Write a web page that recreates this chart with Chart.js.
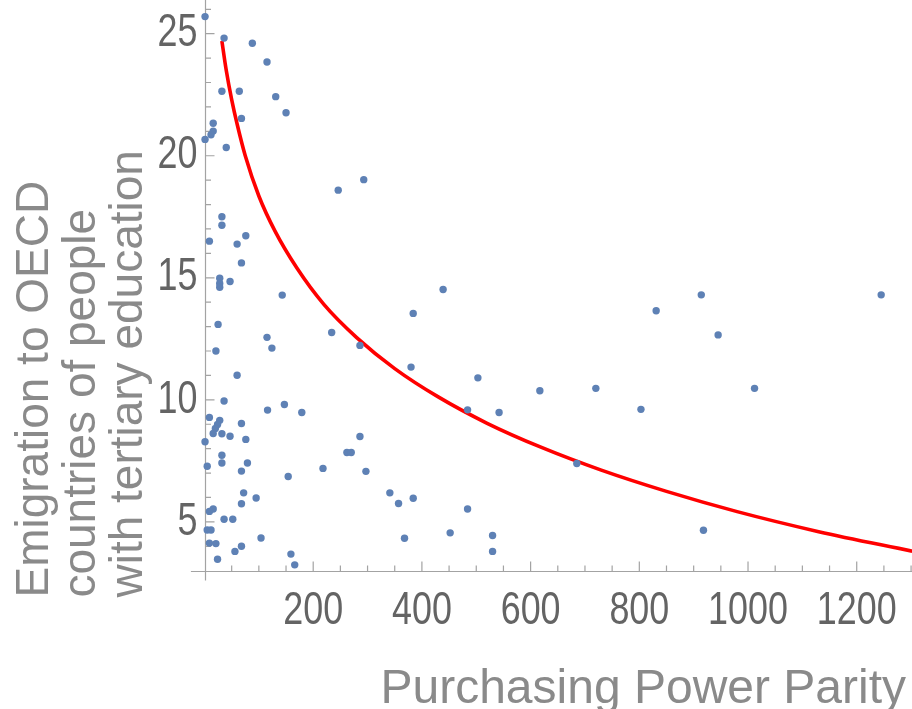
<!DOCTYPE html>
<html><head><meta charset="utf-8">
<script src="https://cdn.jsdelivr.net/npm/chart.js@4.4.1/dist/chart.umd.min.js"></script>
<style>html,body{margin:0;padding:0;background:#fff}canvas{display:block}</style>
</head><body>
<canvas id="c" width="912" height="709"></canvas>
<script>
// Scatter data: Purchasing Power Parity (x) vs emigration of tertiary educated (y)
const pppValues = [1,36,88,115,32,64,131,150,68,16,16,12,1,40,246,293,32,32,9,60,76,68,28,28,28,47,143,25,115,124,234,21,60,36,116,147,179,9,28,24,20,16,32,68,47,76,1,32,32,79,5,68,154,218,262,270,72,95,68,16,9,36,52,5,12,104,9,21,68,56,159,166,24,36,28,439,384,286,380,503,617,720,484,542,286,297,685,341,357,384,484,368,452,530,530,831,914,945,803,1012,1245,918,1008];
const emigrationValues = [25.70,24.82,24.61,23.84,22.64,22.64,22.42,21.76,21.53,21.33,21.01,20.86,20.67,20.34,18.59,19.02,17.50,17.15,16.50,16.38,16.72,15.61,14.98,14.77,14.61,14.85,14.29,13.09,12.56,12.12,12.76,12.00,11.01,9.95,9.58,9.81,9.48,9.28,9.16,8.99,8.83,8.62,8.61,9.03,8.51,8.38,8.28,7.73,7.41,7.41,7.28,7.08,6.86,7.19,7.84,7.84,6.19,5.98,5.74,5.53,5.43,5.11,5.11,4.67,4.67,4.34,4.13,4.11,4.00,3.79,3.68,3.24,3.47,2.82,2.60,14.52,13.54,12.23,11.34,10.90,10.37,10.47,9.59,9.48,8.50,7.07,7.39,6.19,5.75,5.97,5.53,4.33,4.55,4.44,3.79,13.65,14.30,12.66,9.61,10.47,14.30,4.66,2.68];

// Fitted curve, values
const fitX = [32,40,50,60,75,100,130,170,220,280,350,430,520,620,730,850,980,1130,1302];
const fitY = [24.7,23.5,22.3,21.3,20.0,18.35,16.9,15.4,13.9,12.55,11.28,10.12,9.04,8.05,7.12,6.25,5.42,4.6,3.8];

// Axis ticks
const xTickValues = [200,400,600,800,1000,1200];
const xTickLabels = ['200','400','600','800','1000','1200'];
const yTickValues = [5,10,15,20,25];
const yTickLabels = ['5','10','15','20','25'];
const xMinorTicks = [50,100,150,250,300,350,450,500,550,650,700,750,850,900,950,1050,1100,1150,1250,1300];
const yMinorTicks = [4,6,7,8,9,11,12,13,14,16,17,18,19,21,22,23,24,26];

const xAxisTitle = 'Purchasing Power Parity';
const yAxisTitle = ['Emigration to OECD', 'countries of people', 'with tertiary education'];

const scatterPoints = pppValues.map((v, i) => ({x: v, y: emigrationValues[i]}));
const fitPoints = fitX.map((v, i) => ({x: v, y: fitY[i]}));

const axisColor = '#a3a3a3';
const tickFamily = "'Liberation Sans Narrow', 'Liberation Sans', Arial, sans-serif";
const titleFamily = "'Liberation Sans', Arial, sans-serif";

// tick numbers in the reference are set in a narrow face: condense them horizontally
const narrowTicks = {
  id: 'narrowTicks',
  beforeDraw(chart) {
    const ctx = chart.ctx;
    if (ctx.__narrow) return;
    const orig = CanvasRenderingContext2D.prototype.fillText;
    ctx.fillText = function (text, x, y, maxWidth) {
      if (this.font.indexOf('Narrow') !== -1) {
        this.save();
        this.translate(x, y);
        this.scale(0.78, 1);
        orig.call(this, text, 0, 0);
        this.restore();
      } else if (maxWidth === undefined) {
        orig.call(this, text, x, y);
      } else {
        orig.call(this, text, x, y, maxWidth);
      }
    };
    ctx.__narrow = true;
  }
};

const mmaAxes = {
  id: 'mmaAxes',
  afterLayout(chart) {
    const {x, y} = chart.scales;
    y.bottom = y.getPixelForValue(1.9);   // title starts a little below the axis
    x.right = chart.width - 6;            // title ends slightly inside the right edge
  },
  beforeDatasetsDraw(chart) {
    const {ctx, scales: {x, y}} = chart;
    const x0 = Math.round(x.getPixelForValue(0)) + 0.5;
    const y0 = Math.round(y.getPixelForValue(3)) + 0.5;
    ctx.save();
    ctx.strokeStyle = axisColor;
    ctx.lineWidth = 1.2;
    ctx.beginPath();
    ctx.moveTo(x.getPixelForValue(-25), y0);
    ctx.lineTo(chart.width, y0);
    ctx.moveTo(x0, y.getPixelForValue(2.6));
    ctx.lineTo(x0, 0);
    ctx.stroke();
    ctx.beginPath();
    xTickValues.forEach(v => { const p = x.getPixelForValue(v); ctx.moveTo(p, y0); ctx.lineTo(p, y0 - 10); });
    xMinorTicks.forEach(v => { const p = x.getPixelForValue(v); ctx.moveTo(p, y0); ctx.lineTo(p, y0 - 6); });
    yTickValues.forEach(v => { const p = y.getPixelForValue(v); ctx.moveTo(x0, p); ctx.lineTo(x0 + 9, p); });
    yMinorTicks.forEach(v => { const p = y.getPixelForValue(v); ctx.moveTo(x0, p); ctx.lineTo(x0 + 5.5, p); });
    ctx.stroke();
    ctx.restore();
  }
};

new Chart(document.getElementById('c'), {
  type: 'scatter',
  data: {
    datasets: [
      {
        data: scatterPoints,
        backgroundColor: '#5E81B5',
        borderColor: '#5E81B5',
        pointRadius: 3.7,
        pointBorderWidth: 0,
        clip: false,
        order: 0
      },
      {
        data: fitPoints,
        showLine: true,
        borderColor: '#FF0000',
        borderWidth: 3.6,
        pointRadius: 0,
        cubicInterpolationMode: 'monotone',
        clip: false,
        order: 1
      }
    ]
  },
  options: {
    responsive: false,
    animation: false,
    devicePixelRatio: 1,
    layout: {padding: 0, autoPadding: false},
    plugins: {legend: {display: false}, tooltip: {enabled: false}},
    scales: {
      x: {
        type: 'linear',
        min: 0,
        max: 1301.7,
        afterBuildTicks: s => { s.ticks = xTickValues.map(v => ({value: v})); },
        afterFit: s => { s.height = 138.3; s.paddingLeft = 0; s.paddingRight = 0; },
        grid: {display: false, drawTicks: false},
        border: {display: false},
        ticks: {
          padding: 13,
          color: '#646464',
          maxRotation: 0,
          autoSkip: false,
          font: {family: tickFamily, size: 46},
          callback: (v) => xTickLabels[xTickValues.indexOf(v)]
        },
        title: {
          display: true,
          text: xAxisTitle,
          align: 'end',
          color: '#8a8a8a',
          padding: 0,
          font: {family: titleFamily, size: 48, lineHeight: 0.8}
        }
      },
      y: {
        type: 'linear',
        min: 3,
        max: 26.38,
        afterBuildTicks: s => { s.ticks = yTickValues.map(v => ({value: v})); },
        afterFit: s => { s.width = 204.5; s.paddingTop = 0; s.paddingBottom = 0; },
        grid: {display: false, drawTicks: false},
        border: {display: false},
        ticks: {
          padding: 7,
          color: '#646464',
          autoSkip: false,
          font: {family: tickFamily, size: 46},
          callback: (v) => yTickLabels[yTickValues.indexOf(v)]
        },
        title: {
          display: true,
          text: yAxisTitle,
          align: 'start',
          color: '#8a8a8a',
          padding: {top: 12, bottom: 0},
          font: {family: titleFamily, size: 46, lineHeight: 1.02}
        }
      }
    }
  },
  plugins: [narrowTicks, mmaAxes]
});
</script>
</body></html>
